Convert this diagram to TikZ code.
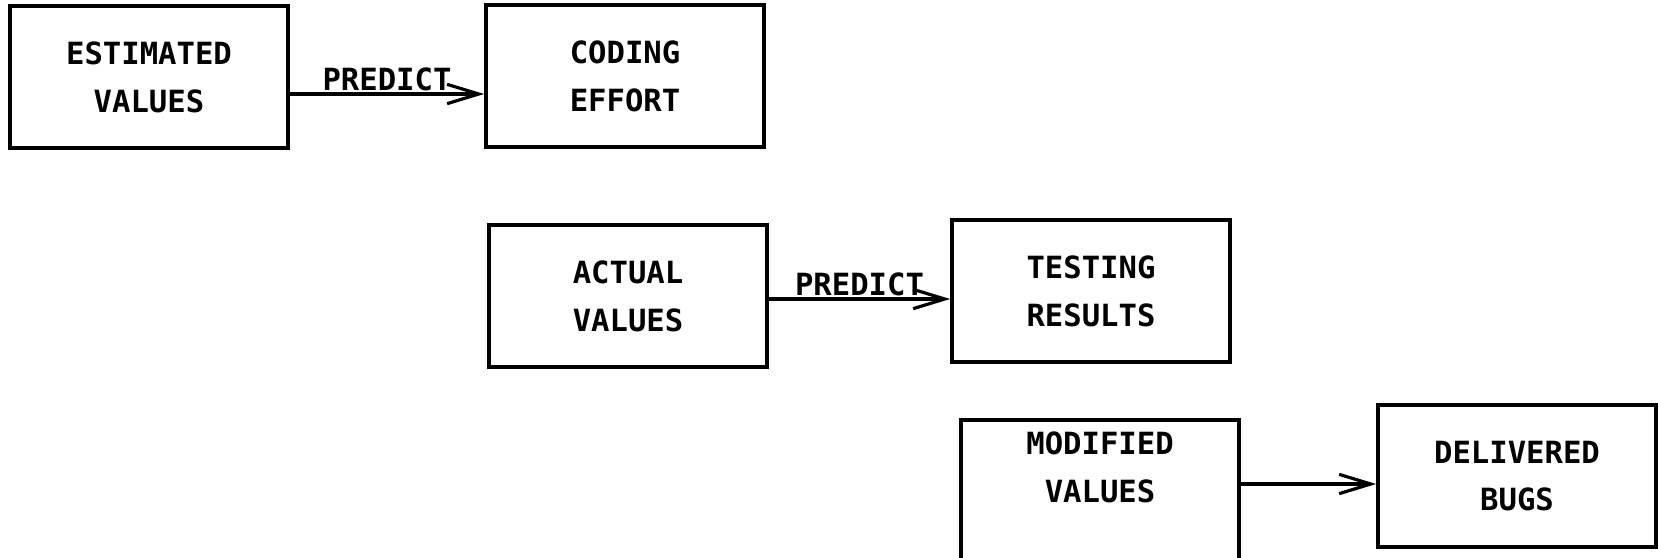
\documentclass[tikz,border=0pt]{standalone}
\usepackage{fontspec}
\newfontfamily\printfont{DejaVu Sans Mono}
\usetikzlibrary{arrows.meta,calc}
\tikzset{
  box/.style={draw, line width=1pt, minimum width=2.78cm, minimum height=1.42cm, inner sep=0pt,
    align=center, font=\printfont\bfseries\fontsize{8.7}{13.6}\selectfont},
  flow/.style={line width=0.9pt, -{Straight Barb[length=9pt,width=5.5pt,line width=0.9pt]}},
  tag/.style={above, inner sep=0.5pt, font=\printfont\bfseries\fontsize{8.7}{10}\selectfont}
}
\begin{document}
\begin{tikzpicture}[x=0.01cm,y=-0.01cm]
                \useasboundingbox (0,0) rectangle (1658,557) ;
                \node [box] (est) at (149,77) {ESTIMATED\\VALUES} ;
                \node [box] (cod) at (625,76) {CODING\\EFFORT} ;
                \node [box] (act) at (628,296) {ACTUAL\\VALUES} ;
                \node [box] (tst) at (1091,291) {TESTING\\RESULTS} ;
                \node [box] (mod) at (1100,491) {MODIFIED\\VALUES\\~} ;
                \node [box] (del) at (1517,476) {DELIVERED\\BUGS} ;
                \coordinate (p1) at ($(est.east)+(0,17)$) ;
                \coordinate (p2) at ($(act.east)+(0,3)$) ;
                \coordinate (p3) at ($(mod.east)+(0,-7)$) ;
                \draw [flow] (p1) -- node [tag] {PREDICT} (p1 -| cod.west) ;
                \draw [flow] (p2) -- node [tag] {PREDICT} (p2 -| tst.west) ;
                \draw [flow] (p3) -- (p3 -| del.west) ;
            \end{tikzpicture}
\end{document}
